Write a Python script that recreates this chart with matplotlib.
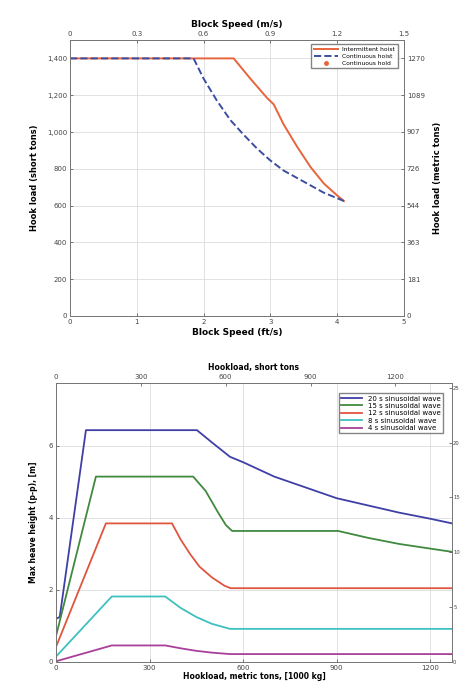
import numpy as np
import matplotlib
matplotlib.use("Agg")
import matplotlib.pyplot as plt

# ---------------------------------------------------------------------------
# data
# ---------------------------------------------------------------------------

# top chart: hook load vs block speed (ft/s, short tons)
inter_speed = [0, 2.45, 2.7, 2.95, 3.05, 3.2, 3.4, 3.6, 3.8, 4.0, 4.1]
inter_load = [1400, 1400, 1290, 1185, 1150, 1040, 920, 810, 720, 655, 625]

cont_speed = [0, 1.85, 2.0, 2.2, 2.4, 2.6, 2.8, 3.0, 3.2, 3.4, 3.6, 3.8, 4.0, 4.1]
cont_load = [1400, 1400, 1290, 1170, 1065, 985, 910, 845, 790, 750, 710, 670, 640, 625]

hold_speed = []
hold_load = []

top_ms_ticks = [0, 0.3, 0.6, 0.9, 1.2, 1.5]
load_ticks = [0, 200, 400, 600, 800, 1000, 1200, 1400]
metric_labels = ["0", "181", "363", "544", "726", "907", "1089", "1270"]

# bottom chart: max heave height (m) vs hookload (metric tons)
wave_labels = ["20 s sinusoidal wave", "15 s sinusoidal wave", "12 s sinusoidal wave",
               "8 s sinusoidal wave", "4 s sinusoidal wave"]

x20 = [0, 12, 96, 452, 500, 558, 600, 700, 800, 900, 1000, 1100, 1200, 1270]
y20 = [1.2, 1.25, 6.44, 6.44, 6.1, 5.7, 5.55, 5.15, 4.85, 4.55, 4.35, 4.15, 3.98, 3.85]

x15 = [0, 128, 440, 480, 520, 545, 565, 905, 1000, 1100, 1200, 1270]
y15 = [0.72, 5.15, 5.15, 4.75, 4.15, 3.8, 3.64, 3.64, 3.45, 3.28, 3.15, 3.06]

x12 = [0, 160, 372, 400, 430, 460, 500, 540, 560, 1270]
y12 = [0.42, 3.85, 3.85, 3.4, 3.0, 2.65, 2.35, 2.12, 2.05, 2.05]

x8 = [0, 179, 350, 400, 450, 500, 558, 1270]
y8 = [0.15, 1.82, 1.82, 1.5, 1.25, 1.06, 0.92, 0.92]

x4 = [0, 179, 350, 400, 450, 500, 558, 1270]
y4 = [0.02, 0.46, 0.46, 0.38, 0.31, 0.26, 0.22, 0.22]

metric_ticks = [0, 300, 600, 900, 1200]
short_ticks = [0, 300, 600, 900, 1200]
heave_ticks = [0, 2, 4, 6]
feet_ticks = [0, 5, 10, 15, 20, 25]

wave_x = [x20, x15, x12, x8, x4]
wave_y = [y20, y15, y12, y8, y4]
wave_colors = ["#3f3fa6", "#3f8a3f", "#e0553f", "#3fc0c0", "#a8409a"]

# ---------------------------------------------------------------------------
W, H = 462, 691
fig = plt.figure(figsize=(W / 100, H / 100), dpi=100)
fig.patch.set_facecolor("white")

tick_fs = 5
lab_fs = 6
grid_kw = dict(color="#dddddd", linewidth=0.6)


def style(ax):
    ax.tick_params(direction="in", labelsize=tick_fs, length=2.5, width=0.5,
                   colors="#444444", pad=2)
    for s in ax.spines.values():
        s.set_color("#777777")
        s.set_linewidth(0.7)


# ---------------------------- top chart ------------------------------------
ax1 = fig.add_axes([70 / W, 1 - 316 / H, 334 / W, 276 / H])
ax1.plot(inter_speed, inter_load, "-", color="#e8643c", lw=1.4, label="Intermittent hoist")
ax1.plot(cont_speed, cont_load, "--", color="#3c4ea0", lw=1.4, label="Continuous hoist")
ax1.plot(hold_speed, hold_load, "o", color="#e8643c", ms=2.5, ls="none", label="Continuous hold")
ax1.set_xlim(0, 5)
ax1.set_ylim(0, 1500)
ax1.set_yticks(load_ticks)
ax1.set_yticklabels([f"{v:,}" for v in load_ticks])
ax1.set_xticks(range(6))
ax1.grid(True, **grid_kw)
ax1.set_xlabel("Block Speed (ft/s)", fontsize=lab_fs + 0.5, fontweight="bold", labelpad=2)
ax1.set_ylabel("Hook load (short tons)", fontsize=lab_fs, fontweight="bold", labelpad=6)
style(ax1)
ax1.legend(loc="upper right", fontsize=4.3, frameon=True, fancybox=False,
           edgecolor="#666666", handlelength=4, borderpad=0.4, labelspacing=0.3,
           bbox_to_anchor=(0.99, 0.995))

ax1t = ax1.twiny()
ax1t.set_xlim(0, 1.5)
ax1t.set_xticks(top_ms_ticks)
ax1t.set_xticklabels([str(v) if v != 0 else "0" for v in top_ms_ticks])
ax1t.set_xlabel("Block Speed (m/s)", fontsize=lab_fs + 0.5, fontweight="bold", labelpad=3)
style(ax1t)

ax1r = ax1.twinx()
ax1r.set_ylim(0, 1500)
ax1r.set_yticks(load_ticks)
ax1r.set_yticklabels(metric_labels)
ax1r.set_ylabel("Hook load (metric tons)", fontsize=lab_fs, fontweight="bold", labelpad=6)
style(ax1r)

# ---------------------------- bottom chart ---------------------------------
ax2 = fig.add_axes([56 / W, 1 - 662 / H, 396 / W, 279 / H])
for xs, ys, c, lab in zip(wave_x, wave_y, wave_colors, wave_labels):
    ax2.plot(xs, ys, color=c, lw=1.3, label=lab)
ax2.set_xlim(0, 1270)
ax2.set_ylim(0, 7.75)
ax2.set_xticks(metric_ticks)
ax2.set_yticks(heave_ticks)
ax2.grid(True, **grid_kw)
ax2.set_xlabel("Hookload, metric tons, [1000 kg]", fontsize=lab_fs - 0.5,
               fontweight="bold", labelpad=1)
ax2.set_ylabel("Max heave height (p-p), [m]", fontsize=lab_fs - 0.5,
               fontweight="bold", labelpad=8)
style(ax2)
ax2.legend(loc="upper right", fontsize=5, frameon=True, fancybox=False,
           edgecolor="#666666", handlelength=3, borderpad=0.3, labelspacing=0.2,
           bbox_to_anchor=(0.985, 0.975))

ax2t = ax2.twiny()
ax2t.set_xlim(0, 1400)
ax2t.set_xticks(short_ticks)
ax2t.set_xlabel("Hookload, short tons", fontsize=lab_fs - 0.5, fontweight="bold", labelpad=3)
style(ax2t)

ax2r = ax2.twinx()
ax2r.set_ylim(0, 7.75 * 3.2808)
ax2r.set_yticks(feet_ticks)
style(ax2r)
# labels sit right at the figure edge, keep them small so they stay inside
ax2r.tick_params(axis="y", labelsize=3.8, pad=0.8)

fig.savefig("out.png", dpi=100)
